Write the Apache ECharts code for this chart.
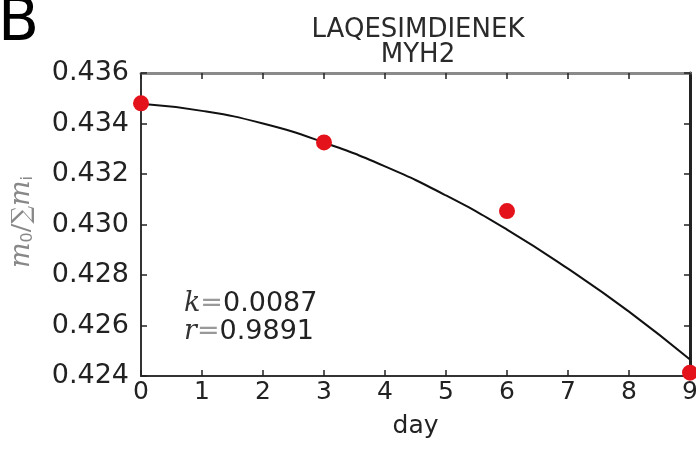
<!DOCTYPE html>
<html>
<head>
<meta charset="utf-8">
<script src="https://cdn.jsdelivr.net/npm/echarts@6/dist/echarts.min.js"></script>
<style>
  html, body { margin: 0; padding: 0; background: #fff; }
  #chart { width: 696px; height: 453px; }
</style>
</head>
<body>
<div id="chart"></div>
<script>
// Measured fractions m0 / sum(mi) for MYH2 peptide LAQESIMDIENEK
const dayPoints = [0, 3, 6, 9];
const fracPoints = [0.4348, 0.43325, 0.43053, 0.42413];

// Fitted decay curve, sampled at each day
const curveDays = [0, 1, 2, 3, 4, 5, 6, 7, 8, 9];
const curveVals = [0.43478, 0.43450, 0.43400, 0.43325, 0.43230, 0.43115, 0.42980, 0.42825, 0.42655, 0.42465];

const xTicks = [0, 1, 2, 3, 4, 5, 6, 7, 8, 9];
const yTicks = [0.424, 0.426, 0.428, 0.430, 0.432, 0.434, 0.436];

const fitK = '0.0087';
const fitR = '0.9891';

const FONT = 'DejaVu Sans';
const chart = echarts.init(document.getElementById('chart'), null, { renderer: 'canvas' });

const tickStyleMain = { show: true, inside: true, length: 6, lineStyle: { color: '#222', width: 1.5 } };

chart.setOption({
  animation: false,
  backgroundColor: '#fff',
  grid: { left: 141, right: 6, top: 73, bottom: 77, outerBoundsMode: 'none' },
  title: {
    text: 'LAQESIMDIENEK\nMYH2',
    left: 413, top: 13, textAlign: 'center',
    textStyle: { fontFamily: FONT, fontWeight: 'normal', fontSize: 26, lineHeight: 25, color: '#2a2a2a' }
  },
  xAxis: [
    {
      type: 'value', min: xTicks[0], max: xTicks[xTicks.length - 1], interval: 1,
      name: 'day', nameLocation: 'middle', nameGap: 38,
      nameTextStyle: { fontFamily: FONT, fontSize: 25, color: '#222' },
      axisLine: { show: true, onZero: false, lineStyle: { color: '#333', width: 2 } },
      axisTick: tickStyleMain,
      axisLabel: { fontFamily: FONT, fontSize: 25, color: '#222', margin: 4 },
      splitLine: { show: false }
    },
    {
      type: 'value', position: 'top', min: xTicks[0], max: xTicks[xTicks.length - 1], interval: 1,
      axisLine: { show: true, onZero: false, lineStyle: { color: '#8a8a8a', width: 3 } },
      axisTick: tickStyleMain,
      axisLabel: { show: false },
      splitLine: { show: false }
    }
  ],
  yAxis: [
    {
      type: 'value', min: yTicks[0], max: yTicks[yTicks.length - 1], interval: 0.002,
      axisLine: { show: true, onZero: false, lineStyle: { color: '#333', width: 2 } },
      axisTick: tickStyleMain,
      axisLabel: {
        fontFamily: FONT, fontSize: 27, color: '#222', margin: 12,
        formatter: v => v.toFixed(3)
      },
      splitLine: { show: false }
    },
    {
      type: 'value', position: 'right', min: yTicks[0], max: yTicks[yTicks.length - 1], interval: 0.002,
      axisLine: { show: true, onZero: false, lineStyle: { color: '#222', width: 3 } },
      axisTick: tickStyleMain,
      axisLabel: { show: false },
      splitLine: { show: false }
    }
  ],
  series: [
    {
      type: 'line', xAxisIndex: 0, yAxisIndex: 0,
      data: curveDays.map((d, i) => [d, curveVals[i]]),
      smooth: 0.5, showSymbol: false, symbol: 'none',
      lineStyle: { color: '#111', width: 2 }, z: 2
    },
    {
      type: 'scatter', xAxisIndex: 0, yAxisIndex: 0,
      data: dayPoints.map((d, i) => [d, fracPoints[i]]),
      symbol: 'circle', symbolSize: 16, clip: false,
      itemStyle: { color: '#e3121b', opacity: 1 }, z: 5
    }
  ],
  graphic: [
    {
      type: 'text', left: -2, top: -6,
      style: { text: 'B', font: '60px "DejaVu Sans"', fill: '#000' }
    },
    {
      type: 'text', x: 22, y: 222, rotation: Math.PI / 2,
      style: {
        text: '{m|m}{s|0}{t|/∑}{m|m}{s|i}',
        fill: '#888', align: 'center', verticalAlign: 'middle',
        rich: {
          m: { font: 'italic 27px "DejaVu Serif"', fill: '#888' },
          s: { font: '16px "DejaVu Sans"', fill: '#888', verticalAlign: 'bottom' },
          t: { font: '25px "DejaVu Serif"', fill: '#888' }
        }
      }
    },
    {
      type: 'text', left: 184, top: 290,
      style: {
        text: '{v|k}{e|=}{n|' + fitK + '}\n{v|r}{e|=}{n|' + fitR + '}',
        rich: {
          v: { font: 'italic 27px "DejaVu Serif"', fill: '#333', lineHeight: 28 },
          e: { font: '27px "DejaVu Sans"', fill: '#999', lineHeight: 28 },
          n: { font: '27px "DejaVu Sans"', fill: '#222', lineHeight: 28 }
        }
      }
    }
  ]
});
</script>
</body>
</html>
